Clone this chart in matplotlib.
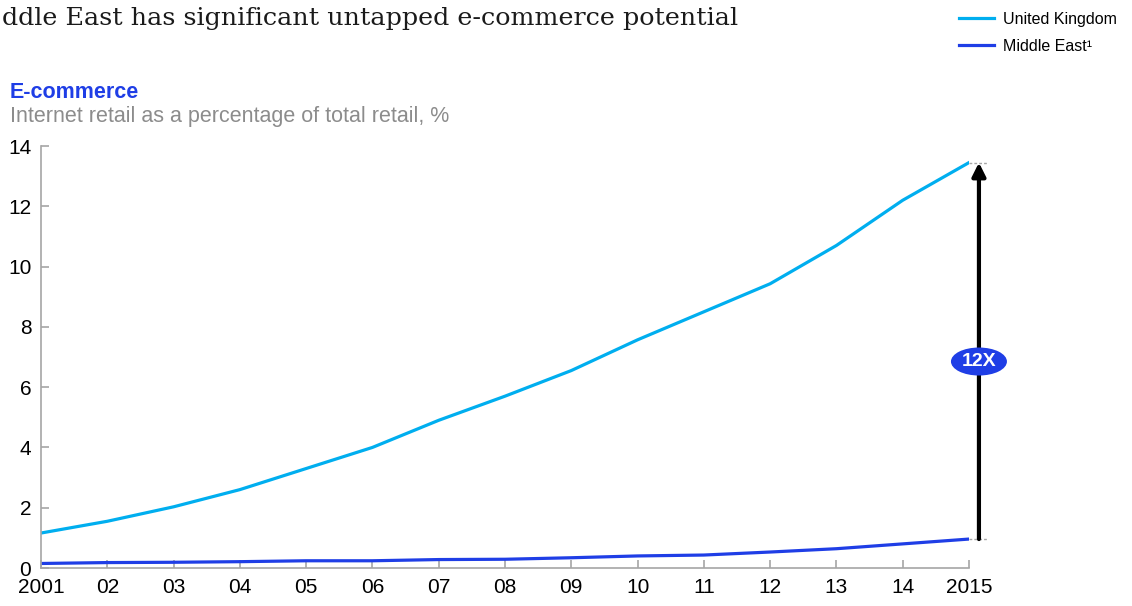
import matplotlib.pyplot as plt
from matplotlib.patches import Ellipse
import numpy as np

plt.rcParams['font.family'] = ['Liberation Sans', 'DejaVu Sans']

years = list(range(2001, 2016))
year_labels = ["2001", "02", "03", "04", "05", "06", "07", "08", "09",
               "10", "11", "12", "13", "14", "2015"]
uk = [1.16, 1.55, 2.03, 2.6, 3.3, 4.0, 4.9, 5.7, 6.55, 7.57, 8.5, 9.43, 10.7, 12.2, 13.45]
middle_east = [0.15, 0.18, 0.19, 0.21, 0.24, 0.24, 0.28, 0.29, 0.34, 0.4, 0.43, 0.53, 0.64, 0.8, 0.96]
multiple_label = "12X"
# the reference crops the start of the headline, only this part is visible
headline = "ddle East has significant untapped e-commerce potential"

uk_col = '#00aeef'
me_col = '#1f3ee6'
axis_col = '#a6a6a6'

fig = plt.figure(figsize=(11.32, 6.06), dpi=100)
ax = fig.add_axes([41/1132, 38/606, 928/1132, 422/606])

ax.plot(years, uk, color=uk_col, linewidth=2.3, label="United Kingdom")
ax.plot(years, middle_east, color=me_col, linewidth=2.3, label="Middle East¹")

ax.set_xlim(2001, 2015)
ax.set_ylim(0, 14)
ax.set_xticks(years)
ax.set_xticklabels(year_labels)
ax.set_yticks(range(0, 15, 2))
for s in ['top', 'right']:
    ax.spines[s].set_visible(False)
for s in ['left', 'bottom']:
    ax.spines[s].set_color(axis_col)
    ax.spines[s].set_linewidth(1.2)
ax.tick_params(axis='both', direction='in', length=6, width=1.2, color=axis_col,
               labelsize=15, labelcolor='black')
ax.tick_params(axis='x', pad=7)
ax.tick_params(axis='y', pad=7)

# arrow showing the gap in 2015
xa = 2015.15
ax.plot([2015, 2015.28], [uk[-1], uk[-1]], ls=(0, (2, 1.5)), color=axis_col, lw=1, clip_on=False)
ax.plot([2015, 2015.28], [middle_east[-1], middle_east[-1]], ls=(0, (2, 1.5)), color=axis_col, lw=1, clip_on=False)
ax.annotate("", xy=(xa, uk[-1]), xytext=(xa, middle_east[-1]),
            arrowprops=dict(arrowstyle='-|>', color='black', lw=3, mutation_scale=20,
                            shrinkA=0, shrinkB=0), annotation_clip=False)
ell = Ellipse((xa, 6.85), width=56/66.3, height=28/30.14, facecolor=me_col,
              edgecolor='none', clip_on=False, zorder=5)
ax.add_patch(ell)
ax.text(xa, 6.85, multiple_label, color='white', fontsize=14, fontweight='bold',
        ha='center', va='center', zorder=6)

# titles
fig.text(2/1132, 1 - 18/606, headline,
         family='DejaVu Serif', fontsize=18.3, ha='left', va='center', color='#1a1a1a')
fig.text(10/1132, 1 - 92/606, "E-commerce", color=me_col, fontsize=15.5,
         fontweight='bold', va='center')
fig.text(10/1132, 1 - 117/606, "Internet retail as a percentage of total retail, %",
         color='#8c8c8c', fontsize=15.5, va='center')

# legend
fig.legend(loc='upper right', bbox_to_anchor=(1130/1132, 1 + 1/606), frameon=False,
           fontsize=11.5, handlelength=2.2, handletextpad=0.6, labelspacing=0.75,
           borderpad=0.3)

fig.savefig("out.png", dpi=100)
